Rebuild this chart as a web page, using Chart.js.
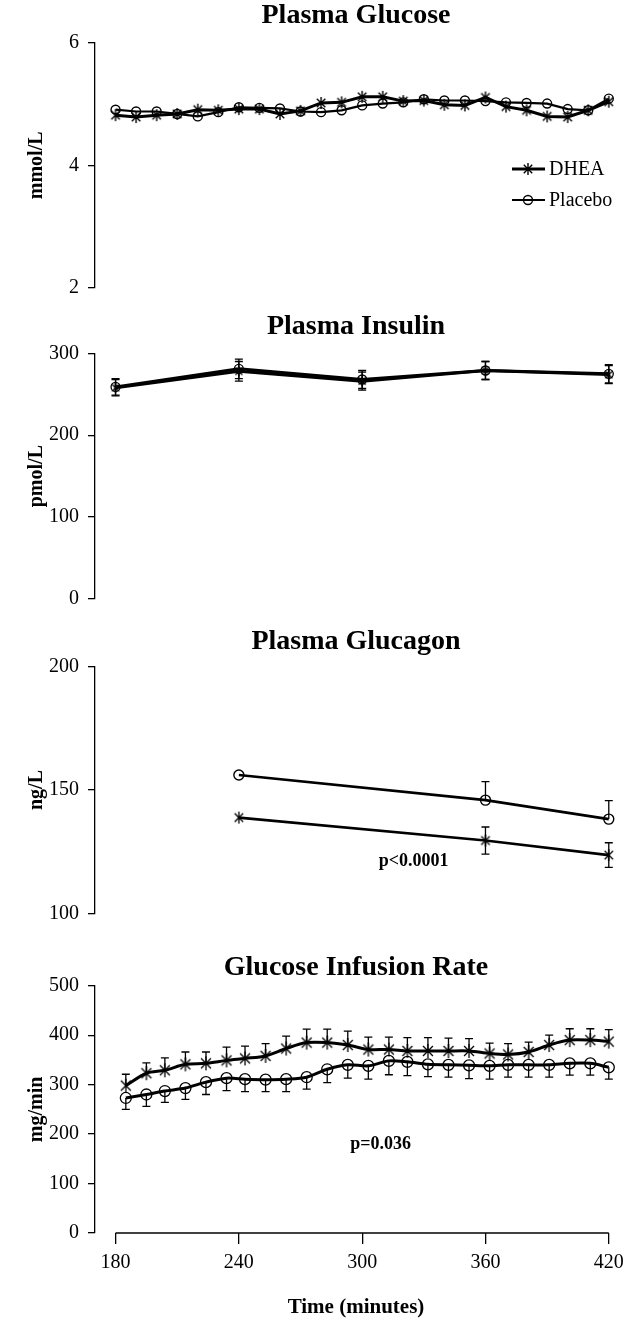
<!DOCTYPE html>
<html>
<head>
<meta charset="utf-8">
<script src="https://cdn.jsdelivr.net/npm/chart.js@4.4.0/dist/chart.umd.min.js"></script>
<style>
    html, body { margin: 0; padding: 0; background: #fff; }
    #wrap { position: relative; width: 631px; height: 1320px; }
    #wrap canvas { position: absolute; left: 0; }
</style>
</head>
<body>
<div id="wrap">
    <canvas id="glucoseChart" width="631" height="310" style="top:0px"></canvas>
    <canvas id="insulinChart" width="631" height="320" style="top:300px"></canvas>
    <canvas id="glucagonChart" width="631" height="320" style="top:620px"></canvas>
    <canvas id="girChart" width="631" height="380" style="top:940px"></canvas>
</div>
<script>
// ---- data ----
const seriesNames = ['DHEA', 'Placebo'];

const glucoseTimes = [180, 190, 200, 210, 220, 230, 240, 250, 260, 270, 280, 290, 300, 310, 320, 330, 340, 350, 360, 370, 380, 390, 400, 410, 420];
const glucoseDhea = [4.82, 4.79, 4.82, 4.84, 4.91, 4.90, 4.92, 4.92, 4.84, 4.89, 5.02, 5.03, 5.12, 5.12, 5.05, 5.06, 4.99, 4.98, 5.11, 4.96, 4.90, 4.80, 4.79, 4.90, 5.04];
const glucosePlacebo = [4.91, 4.88, 4.88, 4.84, 4.80, 4.87, 4.95, 4.94, 4.93, 4.88, 4.87, 4.90, 4.98, 5.01, 5.03, 5.08, 5.06, 5.06, 5.05, 5.03, 5.02, 5.01, 4.92, 4.90, 5.09];

const insulinTimes = [180, 240, 300, 360, 420];
const insulinDhea = [258, 278, 266, 279, 274];
const insulinPlacebo = [259, 281, 268, 279, 275];
const insulinErr = [10, 12, 11, 11, 11];

const glucagonTimes = [240, 360, 420];
const glucagonDhea = [138.8, 129.5, 123.6];
const glucagonDheaErr = [0, 5.5, 5];
const glucagonPlacebo = [156.1, 145.9, 138.2];
const glucagonPlaceboErr = [0, 7.5, 7.5];

const girTimes = [185, 195, 204, 214, 224, 234, 243, 253, 263, 273, 283, 293, 303, 313, 322, 332, 342, 352, 362, 371, 381, 391, 401, 411, 420];
const girDhea = [298, 323, 329, 341, 343, 349, 353, 358, 373, 385, 385, 380, 371, 371, 368, 368, 368, 368, 363, 361, 366, 380, 390, 390, 387];
const girDheaErr = [23, 21, 25, 25, 23, 27, 25, 25, 25, 27, 27, 28, 25, 25, 27, 27, 26, 25, 21, 22, 20, 20, 23, 23, 24];
const girPlacebo = [273, 280, 287, 293, 305, 313, 311, 310, 311, 315, 331, 340, 338, 348, 346, 341, 340, 339, 338, 340, 340, 340, 343, 343, 335];
const girPlaceboErr = [23, 24, 23, 23, 25, 25, 25, 24, 25, 24, 27, 27, 27, 28, 28, 25, 25, 27, 27, 25, 25, 25, 24, 24, 24];

const timeTicks = [180, 240, 300, 360, 420];

// ---- helpers ----
const SERIF = '"Liberation Serif", "Times New Roman", serif';

const makeAsterisk = (r, lw) => {
    const c = document.createElement('canvas');
    const s = Math.ceil(2 * r + lw + 2);
    c.width = s;
    c.height = s;
    const g = c.getContext('2d');
    const m = s / 2;
    const d = r * Math.SQRT1_2;
    g.strokeStyle = '#000';
    g.lineWidth = lw;
    g.beginPath();
    g.moveTo(m, m - r); g.lineTo(m, m + r);
    g.moveTo(m - d, m - d); g.lineTo(m + d, m + d);
    g.moveTo(m + d, m - d); g.lineTo(m - d, m + d);
    g.stroke();
    return c;
};

const toPoints = (xs, ys) => xs.map((x, i) => ({ x, y: ys[i] }));

const errorBars = {
    id: 'errorBars',
    afterDatasetsDraw(chart) {
        const { ctx } = chart;
        const yScale = chart.scales.y;
        chart.data.datasets.forEach((ds, i) => {
            const meta = chart.getDatasetMeta(i);
            ctx.save();
            ctx.strokeStyle = '#000';
            ctx.lineWidth = 1.3;
            meta.data.forEach((pt, j) => {
                const v = ds.data[j].y;
                [[ds.errUp, 1], [ds.errDown, -1]].forEach(([errs, dir]) => {
                    if (!errs || !errs[j]) {
                        return;
                    }
                    const yEnd = yScale.getPixelForValue(v + dir * errs[j]);
                    ctx.beginPath();
                    ctx.moveTo(pt.x, pt.y);
                    ctx.lineTo(pt.x, yEnd);
                    ctx.moveTo(pt.x - 4, yEnd);
                    ctx.lineTo(pt.x + 4, yEnd);
                    ctx.stroke();
                });
            });
            ctx.restore();
        });
    },
};

const noteText = {
    id: 'noteText',
    afterDraw(chart, args, opts) {
        if (!opts.text) {
            return;
        }
        const { ctx, scales } = chart;
        ctx.save();
        ctx.fillStyle = '#000';
        ctx.font = `bold 18px ${SERIF}`;
        ctx.textAlign = 'center';
        ctx.textBaseline = 'middle';
        ctx.fillText(opts.text, scales.x.getPixelForValue(opts.x), scales.y.getPixelForValue(opts.y));
        ctx.restore();
    },
};

const lineLegend = {
    id: 'lineLegend',
    afterDraw(chart, args, opts) {
        if (!opts.show) {
            return;
        }
        const { ctx } = chart;
        chart.data.datasets.forEach((ds, i) => {
            const y = opts.top + i * opts.gap;
            ctx.save();
            ctx.strokeStyle = '#000';
            ctx.lineWidth = ds.borderWidth;
            ctx.beginPath();
            ctx.moveTo(opts.left, y);
            ctx.lineTo(opts.left + 33, y);
            ctx.stroke();
            ctx.lineWidth = ds.pointBorderWidth || 1.3;
            ctx.fillStyle = 'rgba(0,0,0,0)';
            Chart.helpers.drawPoint(ctx, {
                pointStyle: ds.pointStyle,
                radius: ds.pointRadius,
                borderWidth: ds.pointBorderWidth || 1.3,
                rotation: 0,
            }, opts.left + 16, y);
            ctx.fillStyle = '#000';
            ctx.font = `20px ${SERIF}`;
            ctx.textAlign = 'left';
            ctx.textBaseline = 'middle';
            ctx.fillText(ds.label, opts.left + 37, y + 1);
            ctx.restore();
        });
    },
};

const partialAxis = {
    id: 'partialAxis',
    afterDraw(chart, args, opts) {
        if (!opts.show) {
            return;
        }
        const { ctx, scales, chartArea } = chart;
        ctx.save();
        ctx.strokeStyle = '#000';
        ctx.lineWidth = 1.3;
        ctx.beginPath();
        ctx.moveTo(scales.x.getPixelForValue(timeTicks[0]), chartArea.bottom);
        ctx.lineTo(scales.x.getPixelForValue(timeTicks[timeTicks.length - 1]), chartArea.bottom);
        ctx.stroke();
        ctx.restore();
    },
};

const makeDataset = (label, xs, ys, style) => ({
    label,
    data: toPoints(xs, ys),
    borderColor: '#000',
    backgroundColor: 'rgba(0,0,0,0)',
    pointBorderColor: '#000',
    pointBackgroundColor: 'rgba(0,0,0,0)',
    ...style,
});

const buildOptions = (cfg) => ({
    responsive: false,
    animation: false,
    events: [],
    layout: { padding: { left: 0, right: 14, top: 0, bottom: cfg.padBottom } },
    elements: { line: { tension: cfg.tension || 0 } },
    plugins: {
        legend: { display: false },
        tooltip: { enabled: false },
        title: {
            display: true,
            text: cfg.title,
            fullSize: false,
            color: '#000',
            font: { family: SERIF, size: 28, weight: 'bold', lineHeight: 1.1 },
            padding: { top: cfg.titleTop, bottom: cfg.titleBottom },
        },
        noteText: cfg.note || {},
        lineLegend: cfg.legend || {},
        partialAxis: { show: !!cfg.showX },
    },
    scales: {
        x: {
            type: 'linear',
            display: !!cfg.showX,
            min: 170,
            max: 424,
            afterBuildTicks: (scale) => {
                scale.ticks = timeTicks.map((value) => ({ value }));
            },
            afterFit: (scale) => {
                if (cfg.showX) {
                    scale.height = 87;
                }
            },
            border: { display: false },
            grid: {
                drawOnChartArea: false,
                drawTicks: true,
                tickLength: 11,
                color: '#000',
                lineWidth: 1.3,
            },
            ticks: {
                color: '#000',
                padding: 7,
                maxRotation: 0,
                font: { family: SERIF, size: 20 },
            },
            title: {
                display: true,
                text: 'Time (minutes)',
                color: '#000',
                font: { family: SERIF, size: 21, weight: 'bold' },
                padding: { top: 0, bottom: 0 },
            },
        },
        y: {
            min: cfg.yMin,
            max: cfg.yMax,
            afterFit: (scale) => {
                scale.width = 95;
            },
            border: { display: true, color: '#000', width: 1.3 },
            grid: {
                drawOnChartArea: false,
                drawTicks: true,
                tickLength: 7,
                color: '#000',
                lineWidth: 1.3,
            },
            ticks: {
                stepSize: cfg.yStep,
                color: '#000',
                padding: 9,
                font: { family: SERIF, size: 20 },
            },
            title: {
                display: true,
                text: cfg.yTitle,
                color: '#000',
                font: { family: SERIF, size: 20, weight: 'bold' },
                padding: { top: 25, bottom: 0 },
            },
        },
    },
});

const renderPanel = (canvasId, datasets, cfg) => {
    const canvas = document.getElementById(canvasId);
    if (!canvas) {
        return;
    }
    new Chart(canvas, {
        type: 'line',
        data: { datasets },
        options: buildOptions(cfg),
        plugins: [errorBars, noteText, lineLegend, partialAxis],
    });
};

// ---- panels ----
renderPanel('glucoseChart', [
    makeDataset(seriesNames[0], glucoseTimes, glucoseDhea, {
        borderWidth: 3, pointStyle: makeAsterisk(6, 1.4), pointRadius: 6,
    }),
    makeDataset(seriesNames[1], glucoseTimes, glucosePlacebo, {
        borderWidth: 2.2, pointStyle: 'circle', pointRadius: 4.5, pointBorderWidth: 1.4,
    }),
], {
    title: 'Plasma Glucose', yTitle: 'mmol/L', yMin: 2, yMax: 6, yStep: 2,
    titleTop: 0, titleBottom: 12.2, padBottom: 22.3,
    legend: { show: true, left: 512, top: 169, gap: 31 },
});

renderPanel('insulinChart', [
    makeDataset(seriesNames[0], insulinTimes, insulinDhea, {
        borderWidth: 3, pointStyle: makeAsterisk(5, 1.3), pointRadius: 5,
        errUp: insulinErr, errDown: insulinErr,
    }),
    makeDataset(seriesNames[1], insulinTimes, insulinPlacebo, {
        borderWidth: 3, pointStyle: 'circle', pointRadius: 4.5, pointBorderWidth: 1.3,
        errUp: insulinErr, errDown: insulinErr,
    }),
], {
    title: 'Plasma Insulin', yTitle: 'pmol/L', yMin: 0, yMax: 300, yStep: 100,
    titleTop: 11.6, titleBottom: 10.9, padBottom: 17.3,
});

renderPanel('glucagonChart', [
    makeDataset(seriesNames[0], glucagonTimes, glucagonDhea, {
        borderWidth: 2.6, pointStyle: makeAsterisk(6, 1.3), pointRadius: 6,
        errUp: glucagonDheaErr, errDown: glucagonDheaErr,
    }),
    makeDataset(seriesNames[1], glucagonTimes, glucagonPlacebo, {
        borderWidth: 2.6, pointStyle: 'circle', pointRadius: 5, pointBorderWidth: 1.4,
        errUp: glucagonPlaceboErr,
    }),
], {
    title: 'Plasma Glucagon', yTitle: 'ng/L', yMin: 100, yMax: 200, yStep: 50,
    titleTop: 6.6, titleBottom: 9.3, padBottom: 26.7,
    note: { text: 'p<0.0001', x: 325, y: 121 },
});

renderPanel('girChart', [
    makeDataset(seriesNames[0], girTimes, girDhea, {
        borderWidth: 3, pointStyle: makeAsterisk(7, 1.3), pointRadius: 7,
        errUp: girDheaErr,
    }),
    makeDataset(seriesNames[1], girTimes, girPlacebo, {
        borderWidth: 3, pointStyle: 'circle', pointRadius: 5.5, pointBorderWidth: 1.3,
        errDown: girPlaceboErr,
    }),
], {
    title: 'Glucose Infusion Rate', yTitle: 'mg/min', yMin: 0, yMax: 500, yStep: 100,
    titleTop: 12.6, titleBottom: 2.3, padBottom: 0, tension: 0.3, showX: true,
    note: { text: 'p=0.036', x: 309, y: 180 },
});
</script>
</body>
</html>
